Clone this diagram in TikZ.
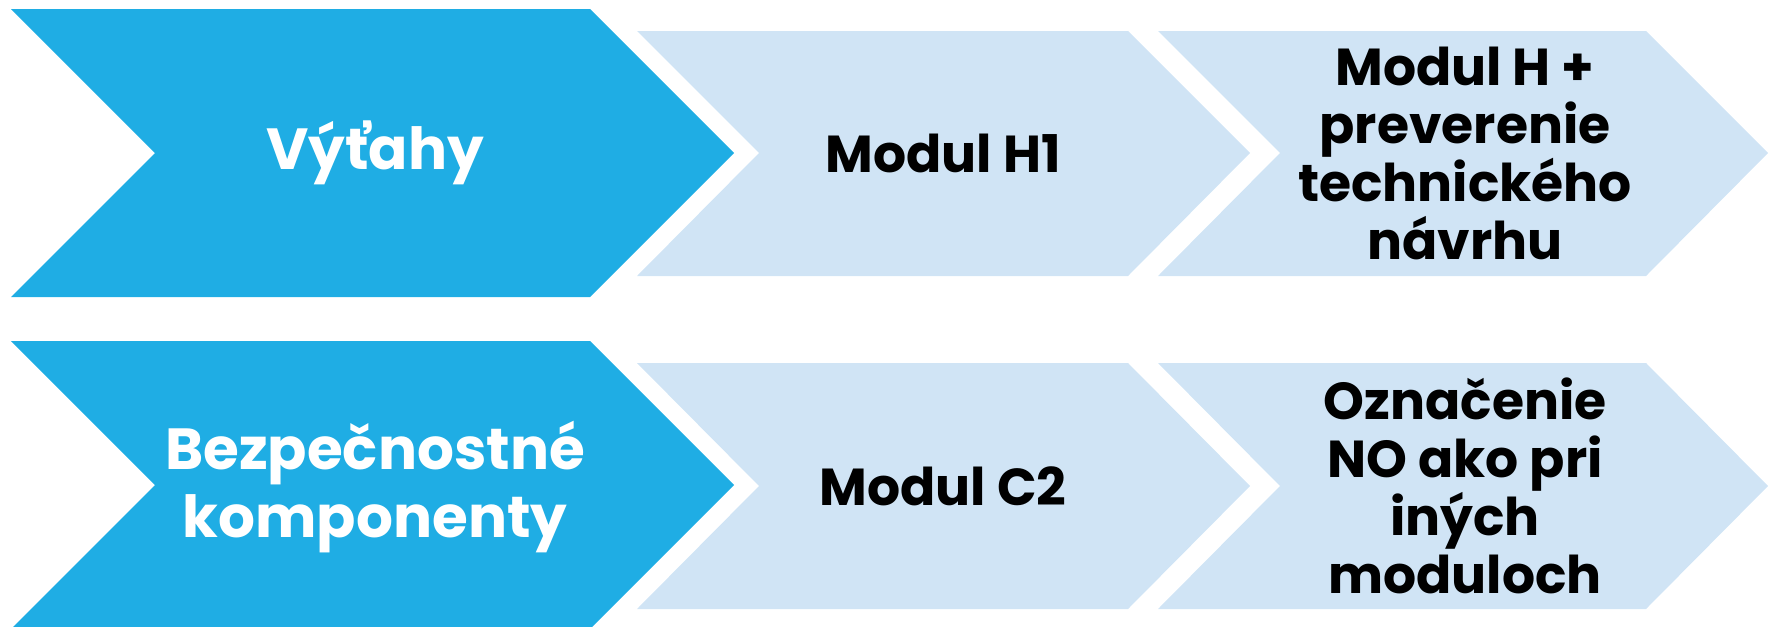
\documentclass[tikz,border=0pt]{standalone}
\usepackage{fontspec}
\setmainfont{Poppins}
\definecolor{darkblue}{HTML}{1FADE4}
\definecolor{lightblue}{HTML}{D0E4F5}
\begin{document}
\begin{tikzpicture}[x=0.5pt,y=-0.5pt,
  darkchev/.style={fill=darkblue},
  lightchev/.style={fill=lightblue},
  whitetxt/.style={text=white,align=center,inner sep=0pt,font=\fontsize{29}{34}\selectfont\bfseries},
  blacktxt/.style={text=black,align=center,inner sep=0pt,font=\fontsize{26}{29}\selectfont\bfseries}]
\useasboundingbox (0,0) rectangle (1774,627);
\clip (0,0) rectangle (1774,627);
% top row
\fill[darkchev] (11,9) -- (590,9) -- (734,153) -- (590,297) -- (11,297) -- (155,153) -- cycle;
\fill[lightchev] (637,31) -- (1128,31) -- (1250,153) -- (1128,276) -- (637,276) -- (759,153) -- cycle;
\fill[lightchev] (1158,31) -- (1646,31) -- (1768,153) -- (1646,276) -- (1158,276) -- (1280,153) -- cycle;
% bottom row
\fill[darkchev] (11,341) -- (590,341) -- (734,485) -- (590,629) -- (11,629) -- (155,485) -- cycle;
\fill[lightchev] (637,363) -- (1128,363) -- (1250,486) -- (1128,609) -- (637,609) -- (759,486) -- cycle;
\fill[lightchev] (1158,363) -- (1646,363) -- (1768,486) -- (1646,609) -- (1158,609) -- (1280,486) -- cycle;
% texts
\node[whitetxt] (t1) at (375,153) {Výťahy};
\node[blacktxt] (t2) at (943,153) {Modul H1};
\node[blacktxt] (t3) at (1465,153) {Modul H +\\preverenie\\technického\\návrhu};
\node[whitetxt] (b1) at (375,487) {Bezpečnostné\\komponenty};
\node[blacktxt] (b2) at (943,486) {Modul C2};
\node[blacktxt] (b3) at (1465,486) {Označenie\\NO ako pri\\iných\\moduloch};
\end{tikzpicture}
\end{document}
